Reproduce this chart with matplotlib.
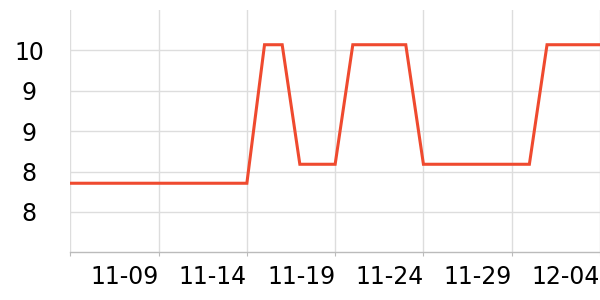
import pandas as pd
import matplotlib
matplotlib.use('Agg')
import matplotlib.pyplot as plt
from matplotlib.ticker import FuncFormatter

dates = pd.date_range('2023-11-04', '2023-12-04', freq='D')
values = [8.355] * 11 + [10.07] * 2 + [8.59] * 3 + [10.07] * 4 + [8.59] * 7 + [10.07] * 4
tick_dates = pd.date_range('2023-11-04', '2023-12-04', freq='5D')
y_ticks = [8.0, 8.5, 9.0, 9.5, 10.0]

fig = plt.figure(figsize=(6, 3), dpi=100)
ax = fig.add_axes([70.3 / 600, 47.7 / 300, 529.7 / 600, 242.3 / 300])

ax.plot(dates, values, color='#ef4a2f', linewidth=2.2, solid_joinstyle='miter')

ax.set_xlim(dates[0], dates[-1])
ax.set_ylim(7.5, 10.5)
ax.set_yticks(y_ticks)
ax.yaxis.set_major_formatter(FuncFormatter(lambda v, p: str(int(v))))
ax.set_xticks(tick_dates)
ax.set_xticklabels(['' if i == 0 else d.strftime('%m-%d') for i, d in enumerate(tick_dates)])

ax.grid(True, color='#dddddd', linewidth=1)
ax.set_axisbelow(True)
for s in ['top', 'right', 'left']:
    ax.spines[s].set_visible(False)
ax.spines['bottom'].set_color('#bbbbbb')
ax.spines['bottom'].set_linewidth(1)

ax.tick_params(axis='y', length=0, pad=29.5, labelsize=17)
ax.tick_params(axis='x', length=3, color='#bbbbbb', pad=6, labelsize=17)
for lab in ax.get_yticklabels():
    lab.set_ha('center')
for lab in ax.get_xticklabels():
    lab.set_ha('right')

fig.savefig('out.png', dpi=100)
